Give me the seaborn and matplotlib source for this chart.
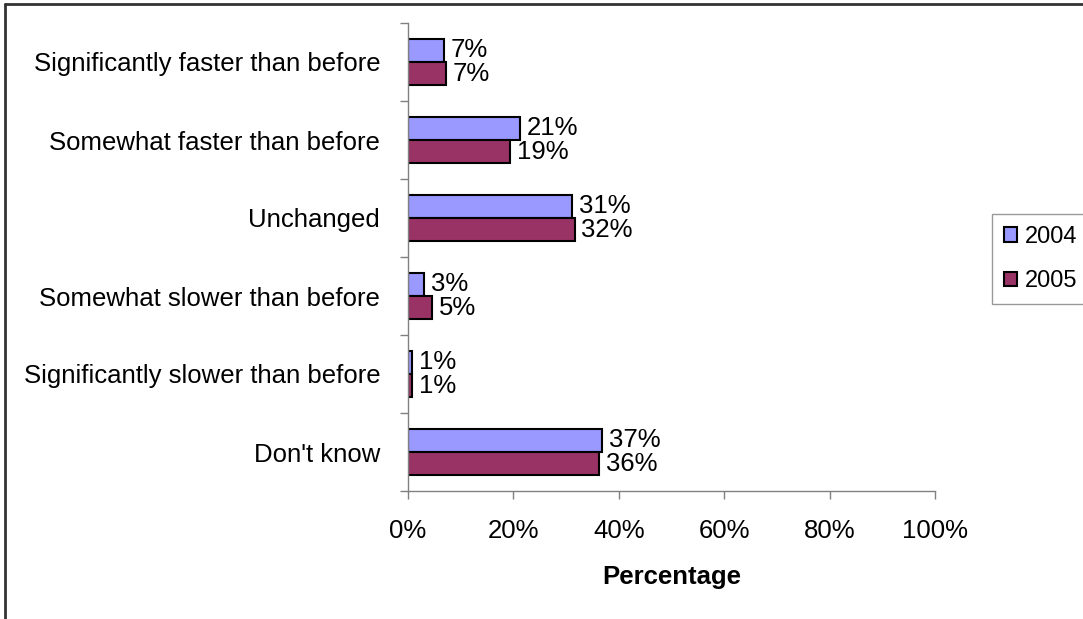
import matplotlib
matplotlib.use("Agg")
import matplotlib.pyplot as plt
from matplotlib.lines import Line2D
import seaborn as sns
import pandas as pd

categories = [
    "Significantly faster than before",
    "Somewhat faster than before",
    "Unchanged",
    "Somewhat slower than before",
    "Significantly slower than before",
    "Don't know",
]
years = ["2004", "2005"]
values_2004 = [6.8, 21.3, 31.1, 3.0, 0.8, 36.8]
values_2005 = [7.2, 19.4, 31.6, 4.6, 0.8, 36.3]
x_ticks = [0, 20, 40, 60, 80, 100]
x_tick_labels = ["0%", "20%", "40%", "60%", "80%", "100%"]

df = pd.DataFrame({
    "Response": categories * 2,
    "Year": [years[0]] * len(categories) + [years[1]] * len(categories),
    "Percentage": values_2004 + values_2005,
})

sns.set_theme(style="white")
plt.rcParams["font.family"] = ["Liberation Sans", "DejaVu Sans"]
plt.rcParams["text.color"] = "black"
plt.rcParams["xtick.color"] = "black"
plt.rcParams["ytick.color"] = "black"

FS = 18.5
W, H = 1083, 619
fig = plt.figure(figsize=(W / 100, H / 100), dpi=100)
ax = fig.add_axes([408 / W, 1 - 491 / H, (935 - 408) / W, (491 - 23) / H])

palette = {"2004": "#9999FF", "2005": "#993366"}
sns.barplot(
    data=df, y="Response", x="Percentage", hue="Year", order=categories,
    hue_order=years, palette=palette, orient="h", width=0.59,
    edgecolor="black", linewidth=1.5, saturation=1, ax=ax, legend=True,
)

for container in ax.containers:
    ax.bar_label(container, labels=[f"{v:.0f}%" for v in container.datavalues],
                 padding=5, fontsize=FS, color="black")

ax.set_xlim(0, 100)
ax.set_ylim(len(categories) - 0.5, -0.5)
ax.set_xticks(x_ticks)
ax.set_xticklabels(x_tick_labels, fontsize=FS)
ax.set_ylabel("")
ax.set_xlabel("Percentage", fontsize=FS, fontweight="bold", labelpad=16, color="black")
ax.tick_params(axis="y", labelsize=FS, length=0, pad=20, labelcolor="black")
ax.tick_params(axis="x", length=6, width=1, color="#808080", pad=14, bottom=True, labelcolor="black")

# category separator ticks on the y axis
ax.set_yticks([i - 0.5 for i in range(len(categories) + 1)], minor=True)
ax.tick_params(axis="y", which="minor", length=6, width=1, color="#808080", left=True)
for t in ax.xaxis.get_major_ticks():
    t.tick1line.set_marker(3)  # tick pointing downward from the axis
    t.tick1line.set_markersize(6)

for side in ["top", "right"]:
    ax.spines[side].set_visible(False)
for side in ["left", "bottom"]:
    ax.spines[side].set_color("#808080")
    ax.spines[side].set_linewidth(1)

handles, labels = ax.get_legend_handles_labels()
ax.legend_.remove()
leg = fig.legend(
    handles, labels, loc="upper left", bbox_to_anchor=(992 / W, 1 - 214 / H),
    fontsize=17, frameon=True, fancybox=False, edgecolor="#808080",
    handlelength=0.55, handleheight=0.55, handletextpad=0.35, labelspacing=0.95,
    borderpad=0.5, borderaxespad=0,
)
leg.get_frame().set_linewidth(1)
for h in leg.legend_handles:
    h.set_edgecolor("black")
    h.set_linewidth(1.5)

# outer chart frame
fig.add_artist(Line2D([5 / W, 5 / W], [0, 1 - 4 / H], color="#333333", linewidth=2, transform=fig.transFigure))
fig.add_artist(Line2D([5 / W, 1], [1 - 4 / H, 1 - 4 / H], color="#333333", linewidth=2, transform=fig.transFigure))

fig.savefig("out.png", dpi=100, facecolor="white")
